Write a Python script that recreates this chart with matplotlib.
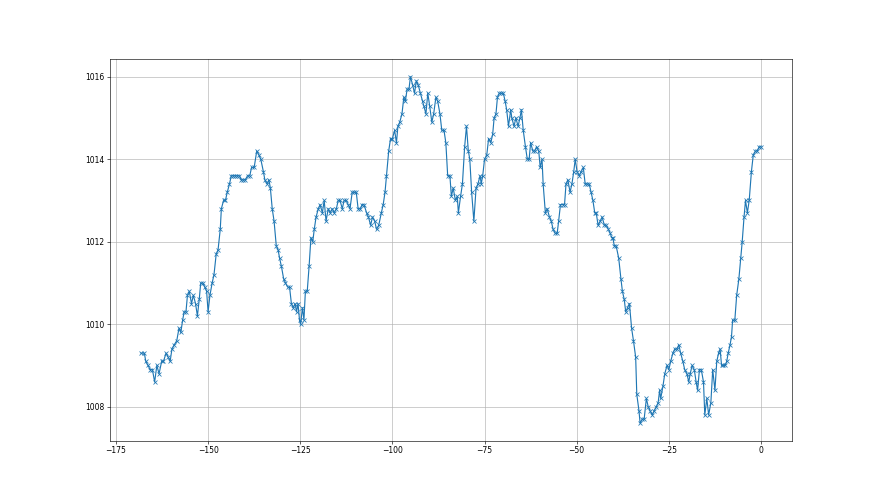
import numpy as np
import matplotlib
matplotlib.use("Agg")
import matplotlib.pyplot as plt

# hours relative to now
hours = [
    -168.2, -167.3, -166.9, -166.3, -165.7, -165.1, -164.5, -163.9, -163.3, -162.6,
    -162.1, -161.4, -160.8, -160.3, -159.8, -159.2, -158.5, -157.9, -157.4, -156.9,
    -156.5, -156.0, -155.6, -155.1, -154.5, -154.0, -153.4, -152.9, -152.4, -152.0,
    -151.4, -150.9, -150.4, -150.0, -149.5, -148.9, -148.4, -147.8, -147.3, -146.7,
    -146.4, -145.8, -145.3, -144.8, -144.2, -143.7, -143.2, -142.6, -142.1, -141.5,
    -141.0, -140.4, -139.9, -139.3, -138.7, -138.2, -137.5, -136.8, -136.2, -135.7,
    -135.0, -134.6, -134.0, -133.5, -133.1, -132.6, -132.1, -131.5, -131.0, -130.6,
    -130.1, -129.5, -129.0, -128.4, -127.9, -127.4, -126.9, -126.4, -126.0, -125.6,
    -125.2, -124.9, -124.4, -124.0, -123.6, -123.1, -122.6, -122.1, -121.6, -121.2,
    -120.7, -120.1, -119.6, -119.0, -118.5, -118.0, -117.4, -116.9, -116.3, -115.8,
    -115.2, -114.7, -114.2, -113.6, -113.1, -112.5, -112.0, -111.5, -110.9, -110.4,
    -109.8, -109.3, -108.7, -108.2, -107.7, -107.0, -106.5, -105.9, -105.4, -104.8,
    -104.3, -103.7, -103.0, -102.5, -102.0, -101.6, -101.0, -100.5, -100.0, -99.4,
    -98.9, -98.5, -98.0, -97.4, -96.9, -96.5, -96.0, -95.5, -95.1, -94.5,
    -94.0, -93.5, -93.0, -92.4, -91.8, -91.5, -90.9, -90.4, -89.9, -89.3,
    -88.8, -88.2, -87.7, -87.1, -86.6, -86.0, -85.5, -85.0, -84.4, -84.0,
    -83.5, -82.9, -82.4, -82.1, -81.5, -81.0, -80.4, -79.9, -79.4, -79.0,
    -78.5, -77.9, -77.3, -76.8, -76.2, -75.9, -75.5, -75.0, -74.4, -73.9,
    -73.3, -72.8, -72.4, -71.9, -71.5, -71.0, -70.4, -69.9, -69.4, -69.0,
    -68.5, -67.9, -67.6, -67.0, -66.5, -65.9, -65.4, -65.0, -64.5, -63.9,
    -63.4, -62.9, -62.5, -61.9, -61.4, -60.9, -60.3, -59.9, -59.4, -59.1,
    -58.5, -58.0, -57.4, -56.9, -56.4, -55.8, -55.3, -54.9, -54.4, -53.8,
    -53.3, -52.9, -52.4, -51.8, -51.3, -50.8, -50.4, -49.9, -49.3, -48.8,
    -48.2, -47.7, -47.1, -46.6, -46.1, -45.6, -45.1, -44.7, -44.2, -43.6,
    -43.1, -42.5, -42.0, -41.4, -40.9, -40.5, -40.2, -39.8, -39.3, -38.6,
    -38.0, -37.6, -37.1, -36.7, -36.2, -35.7, -35.1, -34.6, -34.0, -33.7,
    -33.1, -32.8, -32.2, -31.7, -31.1, -30.6, -30.1, -29.5, -29.0, -28.4,
    -27.9, -27.5, -27.2, -26.6, -26.1, -25.5, -25.0, -24.5, -23.9, -23.4,
    -22.8, -22.3, -21.8, -21.2, -20.7, -20.1, -19.6, -19.2, -18.7, -18.1,
    -17.6, -17.2, -16.7, -16.2, -15.6, -15.25, -14.7, -14.2, -13.6, -13.1,
    -12.5, -12.0, -11.5, -11.1, -10.7, -10.2, -9.7, -9.3, -8.9, -8.4,
    -8.0, -7.7, -7.1, -6.6, -6.0, -5.5, -5.1, -4.6, -4.2, -3.7,
    -3.2, -2.6, -2.1, -1.5, -1.0, -0.5, 0.0,
]

# pressure (hPa)
pressure = [
    1009.3, 1009.3, 1009.1, 1009.0, 1008.9, 1008.9, 1008.6, 1009.0, 1008.8, 1009.1,
    1009.1, 1009.3, 1009.2, 1009.1, 1009.4, 1009.5, 1009.6, 1009.9, 1009.8, 1010.1,
    1010.3, 1010.3, 1010.7, 1010.8, 1010.5, 1010.7, 1010.5, 1010.2, 1010.6, 1011.0,
    1011.0, 1010.9, 1010.8, 1010.3, 1010.7, 1011.0, 1011.2, 1011.7, 1011.8, 1012.3,
    1012.8, 1013.0, 1013.0, 1013.2, 1013.4, 1013.6, 1013.6, 1013.6, 1013.6, 1013.6,
    1013.5, 1013.5, 1013.5, 1013.6, 1013.6, 1013.8, 1013.8, 1014.2, 1014.1, 1014.0,
    1013.7, 1013.5, 1013.4, 1013.5, 1013.3, 1012.8, 1012.5, 1011.9, 1011.8, 1011.6,
    1011.4, 1011.1, 1011.0, 1010.9, 1010.9, 1010.5, 1010.4, 1010.5, 1010.3, 1010.5,
    1010.1, 1010.0, 1010.4, 1010.1, 1010.8, 1010.8, 1011.4, 1012.1, 1012.0, 1012.3,
    1012.6, 1012.8, 1012.9, 1012.7, 1013.0, 1012.5, 1012.8, 1012.7, 1012.8, 1012.7,
    1012.8, 1013.0, 1013.0, 1012.8, 1013.0, 1013.0, 1012.9, 1012.8, 1013.2, 1013.2,
    1013.2, 1012.8, 1012.8, 1012.9, 1012.9, 1012.7, 1012.6, 1012.4, 1012.6, 1012.5,
    1012.3, 1012.4, 1012.7, 1012.9, 1013.2, 1013.6, 1014.2, 1014.5, 1014.5, 1014.7,
    1014.4, 1014.8, 1014.9, 1015.1, 1015.5, 1015.4, 1015.7, 1015.7, 1016.0, 1015.8,
    1015.6, 1015.9, 1015.8, 1015.6, 1015.4, 1015.3, 1015.1, 1015.6, 1015.3, 1014.9,
    1015.1, 1015.5, 1015.4, 1015.1, 1014.7, 1014.7, 1014.4, 1013.6, 1013.6, 1013.1,
    1013.3, 1013.0, 1013.1, 1012.7, 1013.1, 1013.4, 1014.3, 1014.8, 1014.2, 1014.0,
    1013.2, 1012.5, 1013.3, 1013.4, 1013.6, 1013.4, 1013.6, 1014.0, 1014.1, 1014.5,
    1014.4, 1014.6, 1015.0, 1015.1, 1015.5, 1015.6, 1015.6, 1015.6, 1015.4, 1015.2,
    1014.8, 1015.2, 1015.0, 1014.8, 1015.0, 1014.8, 1015.0, 1015.2, 1014.7, 1014.3,
    1014.0, 1014.0, 1014.4, 1014.2, 1014.2, 1014.3, 1014.2, 1013.8, 1014.0, 1013.4,
    1012.7, 1012.8, 1012.6, 1012.5, 1012.3, 1012.2, 1012.2, 1012.5, 1012.9, 1012.9,
    1012.9, 1013.4, 1013.5, 1013.2, 1013.4, 1013.7, 1014.0, 1013.7, 1013.6, 1013.7,
    1013.8, 1013.4, 1013.4, 1013.4, 1013.2, 1013.0, 1012.7, 1012.7, 1012.4, 1012.5,
    1012.6, 1012.4, 1012.4, 1012.3, 1012.2, 1012.1, 1012.1, 1011.9, 1011.9, 1011.6,
    1011.1, 1010.8, 1010.6, 1010.3, 1010.4, 1010.5, 1009.9, 1009.6, 1009.2, 1008.3,
    1007.9, 1007.6, 1007.7, 1007.7, 1008.2, 1008.0, 1007.9, 1007.8, 1007.9, 1008.0,
    1008.1, 1008.4, 1008.2, 1008.5, 1008.8, 1009.0, 1008.9, 1009.1, 1009.3, 1009.4,
    1009.4, 1009.5, 1009.3, 1009.1, 1008.9, 1008.8, 1008.6, 1008.8, 1009.0, 1008.9,
    1008.6, 1008.4, 1008.9, 1008.9, 1008.6, 1007.8, 1008.2, 1007.8, 1008.1, 1008.9,
    1008.4, 1009.1, 1009.3, 1009.4, 1009.0, 1009.0, 1009.0, 1009.1, 1009.3, 1009.5,
    1009.7, 1010.1, 1010.1, 1010.7, 1011.1, 1011.6, 1012.0, 1012.6, 1013.0, 1012.7,
    1013.0, 1013.7, 1014.1, 1014.2, 1014.2, 1014.3, 1014.3,
]

fig = plt.figure(figsize=(16, 9), dpi=55)
plt.plot(hours, pressure, marker='x')
plt.grid(True)

plt.savefig("out.png", dpi=55)
